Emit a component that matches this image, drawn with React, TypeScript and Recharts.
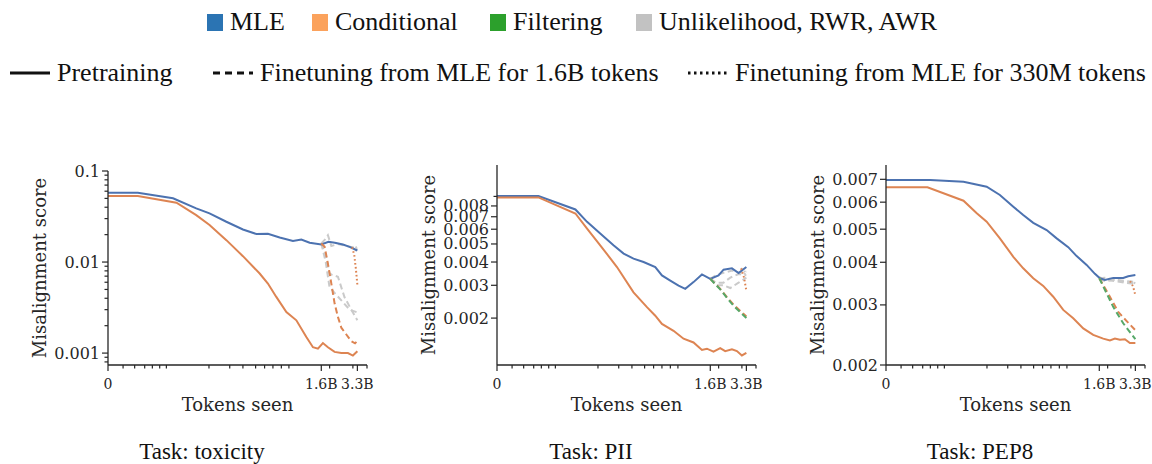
import React from 'react';
import { LineChart, Line, XAxis, YAxis } from 'recharts';

type Pt = [number, number];

// x positions: tokens seen, in millions
const MTOK = 23.5;
const sx = (t: number) => Math.log10(1 + t / MTOK);

const xMajorTokens = [0, 1600, 3300];
const xMajorLabels = ['0', '1.6B', '3.3B'];
const xMinorTokens = [8.2, 16.4, 25.2, 33.2, 42.1, 51.4, 151, 240, 319, 417, 503, 598, 711, 830, 1892, 3017, 4000];
const xMaxTokens = 4000;

// legend
const methodNames = ['MLE', 'Conditional', 'Filtering', 'Unlikelihood, RWR, AWR'];
const methodSwatches = ['#2b74b3', '#fba25c', '#2ca02c', '#c2c2c2'];
const styleNames = ['Pretraining', 'Finetuning from MLE for 1.6B tokens', 'Finetuning from MLE for 330M tokens'];
const taskTitles = ['Task: toxicity', 'Task: PII', 'Task: PEP8'];

// ---- toxicity ----
const toxMLE: Pt[] = [[0, 0.0577], [19, 0.0577], [62, 0.0501], [112, 0.0388], [153, 0.0342], [223, 0.0277], [319, 0.0228], [424, 0.0203], [539, 0.0204], [687, 0.0186], [901, 0.017], [1069, 0.0177], [1265, 0.0163], [1600, 0.0156], [1850, 0.0167], [2100, 0.0163], [2471, 0.0156], [2825, 0.0147], [3300, 0.0134]];
const toxCond: Pt[] = [[0, 0.0531], [19, 0.0531], [68, 0.0448], [112, 0.0328], [153, 0.0255], [223, 0.0174], [319, 0.0116], [454, 0.00748], [539, 0.00581], [641, 0.00414], [788, 0.00283], [966, 0.00229], [1183, 0.0015], [1352, 0.00116], [1495, 0.00112], [1653, 0.00129], [1828, 0.00116], [2089, 0.00103], [2393, 0.001], [2731, 0.001], [3017, 0.00094], [3300, 0.00105]];
const toxCondFt: Pt[] = [[1600, 0.016], [1711, 0.0147], [1828, 0.0096], [1958, 0.0058], [2092, 0.0035], [2235, 0.0025], [2393, 0.0019], [2645, 0.0016], [2924, 0.00135], [3150, 0.00128], [3300, 0.00136]];
const toxGrayFtA: Pt[] = [[1600, 0.016], [1711, 0.0175], [1828, 0.0197], [1958, 0.015], [2235, 0.0158], [2645, 0.015], [3017, 0.0145], [3300, 0.014]];
const toxGrayFtB: Pt[] = [[1600, 0.016], [1750, 0.012], [1888, 0.0075], [2000, 0.0072], [2235, 0.0069], [2552, 0.0041], [2924, 0.003], [3300, 0.0023]];
const toxGrayFtC: Pt[] = [[1600, 0.016], [1750, 0.01], [1888, 0.0053], [2117, 0.0045], [2393, 0.0038], [2825, 0.003], [3300, 0.0028]];
const toxCond330: Pt[] = [[2970, 0.0145], [3100, 0.012], [3200, 0.0085], [3300, 0.0056]];
const toxGray330A: Pt[] = [[2970, 0.0145], [3150, 0.015], [3300, 0.014]];
const toxGray330B: Pt[] = [[2970, 0.0145], [3150, 0.0138], [3300, 0.0128]];
const toxYLabeled = [0.001, 0.01, 0.1];
const toxYLabels = ['0.001', '0.01', '0.1'];
const toxYMinor = [0.0008, 0.0009, 0.002, 0.003, 0.004, 0.005, 0.006, 0.007, 0.008, 0.009, 0.02, 0.03, 0.04, 0.05, 0.06, 0.07, 0.08, 0.09];

// ---- PII ----
const piiMLE: Pt[] = [[0, 0.00904], [30, 0.00904], [88, 0.00766], [117, 0.00657], [159, 0.00569], [214, 0.00492], [267, 0.00444], [330, 0.00417], [408, 0.004], [521, 0.00376], [598, 0.00339], [710, 0.00318], [841, 0.00299], [964, 0.00287], [1140, 0.00312], [1352, 0.00343], [1600, 0.00325], [1888, 0.00339], [2089, 0.00364], [2471, 0.0037], [2825, 0.00349], [3300, 0.00376]];
const piiCond: Pt[] = [[0, 0.00889], [30, 0.00889], [88, 0.00729], [117, 0.00605], [159, 0.00492], [231, 0.00376], [330, 0.00275], [438, 0.00229], [521, 0.00206], [598, 0.00186], [759, 0.00171], [931, 0.00155], [1140, 0.00148], [1352, 0.00135], [1495, 0.00137], [1707, 0.00132], [1954, 0.00138], [2160, 0.00133], [2471, 0.00136], [2731, 0.00133], [3017, 0.00126], [3300, 0.0013]];
const piiCondFt: Pt[] = [[1600, 0.00325], [1954, 0.00287], [2235, 0.00259], [2552, 0.00236], [3300, 0.00204]];
const piiFiltFt: Pt[] = [[1600, 0.00325], [1954, 0.00285], [2235, 0.00257], [2552, 0.00233], [3300, 0.002]];
const piiGrayFtA: Pt[] = [[1600, 0.00325], [1800, 0.0034], [2089, 0.0035], [2471, 0.0036], [2825, 0.0035], [3300, 0.00355]];
const piiGrayFtB: Pt[] = [[1600, 0.00325], [1800, 0.0031], [2089, 0.0031], [2393, 0.0033], [2825, 0.00345], [3300, 0.0034]];
const piiGrayFtC: Pt[] = [[1600, 0.00325], [1800, 0.003], [2089, 0.003], [2393, 0.0029], [2825, 0.0031], [3300, 0.0033]];
const piiCond330: Pt[] = [[2970, 0.0037], [3150, 0.0033], [3300, 0.0028]];
const piiGray330A: Pt[] = [[2970, 0.0037], [3300, 0.0035]];
const piiGray330B: Pt[] = [[2970, 0.0036], [3300, 0.0034]];
const piiYLabeled = [0.002, 0.003, 0.004, 0.005, 0.006, 0.007, 0.008];
const piiYLabels = ['0.002', '0.003', '0.004', '0.005', '0.006', '0.007', '0.008'];
const piiYMinor = [0.009];

// ---- PEP8 ----
const pepMLE: Pt[] = [[0, 0.00697], [33, 0.00697], [86, 0.00689], [150, 0.00666], [202, 0.0063], [271, 0.00582], [335, 0.0055], [414, 0.00522], [547, 0.00497], [673, 0.0047], [853, 0.00443], [1012, 0.00417], [1239, 0.00393], [1465, 0.0037], [1620, 0.00359], [1792, 0.00355], [2117, 0.0036], [2587, 0.0036], [2860, 0.00364], [3300, 0.00367]];
const pepCond: Pt[] = [[0, 0.00663], [30, 0.00663], [86, 0.00606], [119, 0.00557], [150, 0.00526], [202, 0.0047], [271, 0.00415], [335, 0.00384], [414, 0.00359], [510, 0.00341], [627, 0.00317], [770, 0.0029], [944, 0.00274], [1157, 0.00256], [1416, 0.00245], [1732, 0.00239], [1981, 0.00236], [2191, 0.00239], [2421, 0.00237], [2677, 0.00238], [2958, 0.00232], [3300, 0.00232]];
const pepCondFt: Pt[] = [[1600, 0.00359], [1910, 0.00324], [2341, 0.00286], [2800, 0.00268], [3300, 0.00253]];
const pepFiltFt: Pt[] = [[1600, 0.00359], [2117, 0.00296], [2587, 0.00265], [3300, 0.00238]];
const pepGrayFtA: Pt[] = [[1600, 0.00359], [1800, 0.0036], [2200, 0.00355], [2800, 0.0035], [3300, 0.00347]];
const pepGrayFtB: Pt[] = [[1600, 0.00362], [1800, 0.00356], [2200, 0.00352], [2800, 0.00348], [3300, 0.00345]];
const pepGrayFtC: Pt[] = [[1600, 0.00357], [1800, 0.00352], [2200, 0.00356], [2800, 0.00352], [3300, 0.0035]];
const pepCond330: Pt[] = [[2970, 0.00352], [3150, 0.0034], [3300, 0.0032]];
const pepGray330A: Pt[] = [[2970, 0.00352], [3300, 0.00347]];
const pepYLabeled = [0.002, 0.003, 0.004, 0.005, 0.006, 0.007];
const pepYLabels = ['0.002', '0.003', '0.004', '0.005', '0.006', '0.007'];
const pepYMinor: number[] = [];

const BLUE = '#4c72b0';
const ORANGE = '#dd8452';
const GREEN = '#55a868';
const GRAY = '#cacaca';
const AXIS = '#262626';
const TEXT = '#262626';
const AXIS_FONT = '"DejaVu Serif", serif';
const CAPTION_FONT = '"Liberation Serif", "Times New Roman", serif';

const DASH = '6 3.5';
const DOT = '1.6 2.4';

interface Series {
  pts: Pt[];
  color: string;
  dash?: string;
}

const rows = (pts: Pt[]) => pts.map(([t, v]) => ({ x: sx(t), y: v }));

const near = (a: number, b: number) => Math.abs(a - b) <= Math.abs(b) * 1e-6 + 1e-9;

const XTick = (props: any) => {
  const { x, y, payload } = props;
  const i = xMajorTokens.findIndex((t) => near(sx(t), payload.value));
  const major = i >= 0;
  return (
    <g>
      <line x1={x} x2={x} y1={y} y2={y + (major ? 6 : 3.5)} stroke={AXIS} strokeWidth={1.2} />
      {major && (
        <text x={x} y={y + 19} textAnchor="middle" dominantBaseline="central" fontSize={14} fontFamily={AXIS_FONT} fill={TEXT}>
          {xMajorLabels[i]}
        </text>
      )}
    </g>
  );
};

const makeYTick = (labeled: number[], labels: string[]) => (props: any) => {
  const { x, y, payload } = props;
  const i = labeled.findIndex((v) => near(v, payload.value));
  const major = i >= 0;
  return (
    <g>
      <line x1={x - (major ? 6 : 3.5)} x2={x} y1={y} y2={y} stroke={AXIS} strokeWidth={1.2} />
      {major && (
        <text x={x - 8} y={y} textAnchor="end" dominantBaseline="central" fontSize={16} fontFamily={AXIS_FONT} fill={TEXT}>
          {labels[i]}
        </text>
      )}
    </g>
  );
};

const yLabel = (props: any) => {
  const vb = props.viewBox;
  const cx = vb.x + vb.width - 69;
  const cy = vb.y + vb.height / 2;
  return (
    <text x={cx} y={cy} transform={`rotate(-90 ${cx} ${cy})`} textAnchor="middle" dominantBaseline="central" fontSize={18} fontFamily={AXIS_FONT} fill={TEXT}>
      Misalignment score
    </text>
  );
};

const xLabel = (props: any) => {
  const vb = props.viewBox;
  return (
    <text x={vb.x + vb.width / 2} y={vb.y + 39} textAnchor="middle" dominantBaseline="central" fontSize={18} fontFamily={AXIS_FONT} fill={TEXT}>
      Tokens seen
    </text>
  );
};

interface PanelProps {
  originX: number;
  topMargin: number;
  yDomain: [number, number];
  yLabeled: number[];
  yLabels: string[];
  yMinor: number[];
  series: Series[];
}

const Panel = ({ originX, topMargin, yDomain, yLabeled, yLabels, yMinor, series }: PanelProps) => {
  const yTicks = [...yLabeled, ...yMinor].sort((a, b) => a - b);
  const xTicks = [...xMajorTokens, ...xMinorTokens].sort((a, b) => a - b).map(sx);
  return (
    <div style={{ position: 'absolute', left: originX - 100, top: 150 }}>
      <LineChart width={372} height={275} margin={{ top: topMargin, right: 13, left: 0, bottom: 0 }}>
        <XAxis
          type="number"
          dataKey="x"
          domain={[0, sx(xMaxTokens)]}
          allowDataOverflow
          ticks={xTicks}
          interval={0}
          tickSize={0}
          tickMargin={0}
          tick={<XTick />}
          height={60}
          axisLine={{ stroke: AXIS, strokeWidth: 1.3 }}
          label={xLabel}
        />
        <YAxis
          type="number"
          scale="log"
          domain={yDomain}
          allowDataOverflow
          ticks={yTicks}
          interval={0}
          tickSize={0}
          tickMargin={0}
          tick={makeYTick(yLabeled, yLabels)}
          width={100}
          axisLine={{ stroke: AXIS, strokeWidth: 1.3 }}
          label={yLabel}
        />
        {series.map((s, i) => (
          <Line
            key={i}
            data={rows(s.pts)}
            dataKey="y"
            type="linear"
            stroke={s.color}
            strokeWidth={2}
            strokeDasharray={s.dash}
            dot={false}
            activeDot={false}
            isAnimationActive={false}
          />
        ))}
      </LineChart>
    </div>
  );
};

const toxSeries: Series[] = [
  { pts: toxGrayFtA, color: GRAY, dash: DASH },
  { pts: toxGrayFtB, color: GRAY, dash: DASH },
  { pts: toxGrayFtC, color: GRAY, dash: DASH },
  { pts: toxGray330A, color: GRAY, dash: DOT },
  { pts: toxGray330B, color: GRAY, dash: DOT },
  { pts: toxMLE, color: BLUE },
  { pts: toxCond, color: ORANGE },
  { pts: toxCondFt, color: ORANGE, dash: DASH },
  { pts: toxCond330, color: ORANGE, dash: DOT },
];

const piiSeries: Series[] = [
  { pts: piiGrayFtA, color: GRAY, dash: DASH },
  { pts: piiGrayFtB, color: GRAY, dash: DASH },
  { pts: piiGrayFtC, color: GRAY, dash: DASH },
  { pts: piiGray330A, color: GRAY, dash: DOT },
  { pts: piiGray330B, color: GRAY, dash: DOT },
  { pts: piiMLE, color: BLUE },
  { pts: piiCond, color: ORANGE },
  { pts: piiCondFt, color: ORANGE, dash: DASH },
  { pts: piiFiltFt, color: GREEN, dash: DASH },
  { pts: piiCond330, color: ORANGE, dash: DOT },
];

const pepSeries: Series[] = [
  { pts: pepGrayFtA, color: GRAY, dash: DASH },
  { pts: pepGrayFtB, color: GRAY, dash: DASH },
  { pts: pepGrayFtC, color: GRAY, dash: DASH },
  { pts: pepGray330A, color: GRAY, dash: DOT },
  { pts: pepMLE, color: BLUE },
  { pts: pepCond, color: ORANGE },
  { pts: pepCondFt, color: ORANGE, dash: DASH },
  { pts: pepFiltFt, color: GREEN, dash: DASH },
  { pts: pepCond330, color: ORANGE, dash: DOT },
];

const swatchX = [207, 312, 490, 636];
const styleX = [10, 213, 688];
const styleDash = [undefined, '7 5', '2.5 3.5'];

const Legend = () => (
  <>
    {methodNames.map((name, i) => (
      <div key={name} style={{ position: 'absolute', left: swatchX[i], top: 6, height: 32, display: 'flex', alignItems: 'center', whiteSpace: 'nowrap' }}>
        <span style={{ display: 'inline-block', width: 16, height: 17, background: methodSwatches[i], marginRight: 7 }} />
        <span style={{ fontFamily: CAPTION_FONT, fontSize: 26, color: '#111' }}>{name}</span>
      </div>
    ))}
    {styleNames.map((name, i) => (
      <div key={name} style={{ position: 'absolute', left: styleX[i], top: 57, height: 32, display: 'flex', alignItems: 'center', whiteSpace: 'nowrap' }}>
        <svg width={40} height={8} style={{ marginRight: 7 }}>
          <line x1={0} x2={40} y1={4} y2={4} stroke="#111" strokeWidth={3} strokeDasharray={styleDash[i]} />
        </svg>
        <span style={{ fontFamily: CAPTION_FONT, fontSize: 26, color: '#111' }}>{name}</span>
      </div>
    ))}
  </>
);

const titleCenters = [202, 591, 980];

export default function App() {
  return (
    <div style={{ position: 'fixed', left: 0, top: 0, width: 1152, height: 464, background: '#fff', overflow: 'hidden' }}>
      <Legend />
      <Panel originX={108.3} topMargin={21} yDomain={[0.00074, 0.1]} yLabeled={toxYLabeled} yLabels={toxYLabels} yMinor={toxYMinor} series={toxSeries} />
      <Panel originX={496.7} topMargin={15} yDomain={[0.00112, 0.01327]} yLabeled={piiYLabeled} yLabels={piiYLabels} yMinor={piiYMinor} series={piiSeries} />
      <Panel originX={886} topMargin={15} yDomain={[0.002, 0.00771]} yLabeled={pepYLabeled} yLabels={pepYLabels} yMinor={pepYMinor} series={pepSeries} />
      {taskTitles.map((t, i) => (
        <div key={t} style={{ position: 'absolute', left: titleCenters[i] - 100, width: 200, top: 439, textAlign: 'center', fontFamily: CAPTION_FONT, fontSize: 23, color: '#111', whiteSpace: 'nowrap' }}>
          {t}
        </div>
      ))}
    </div>
  );
}
